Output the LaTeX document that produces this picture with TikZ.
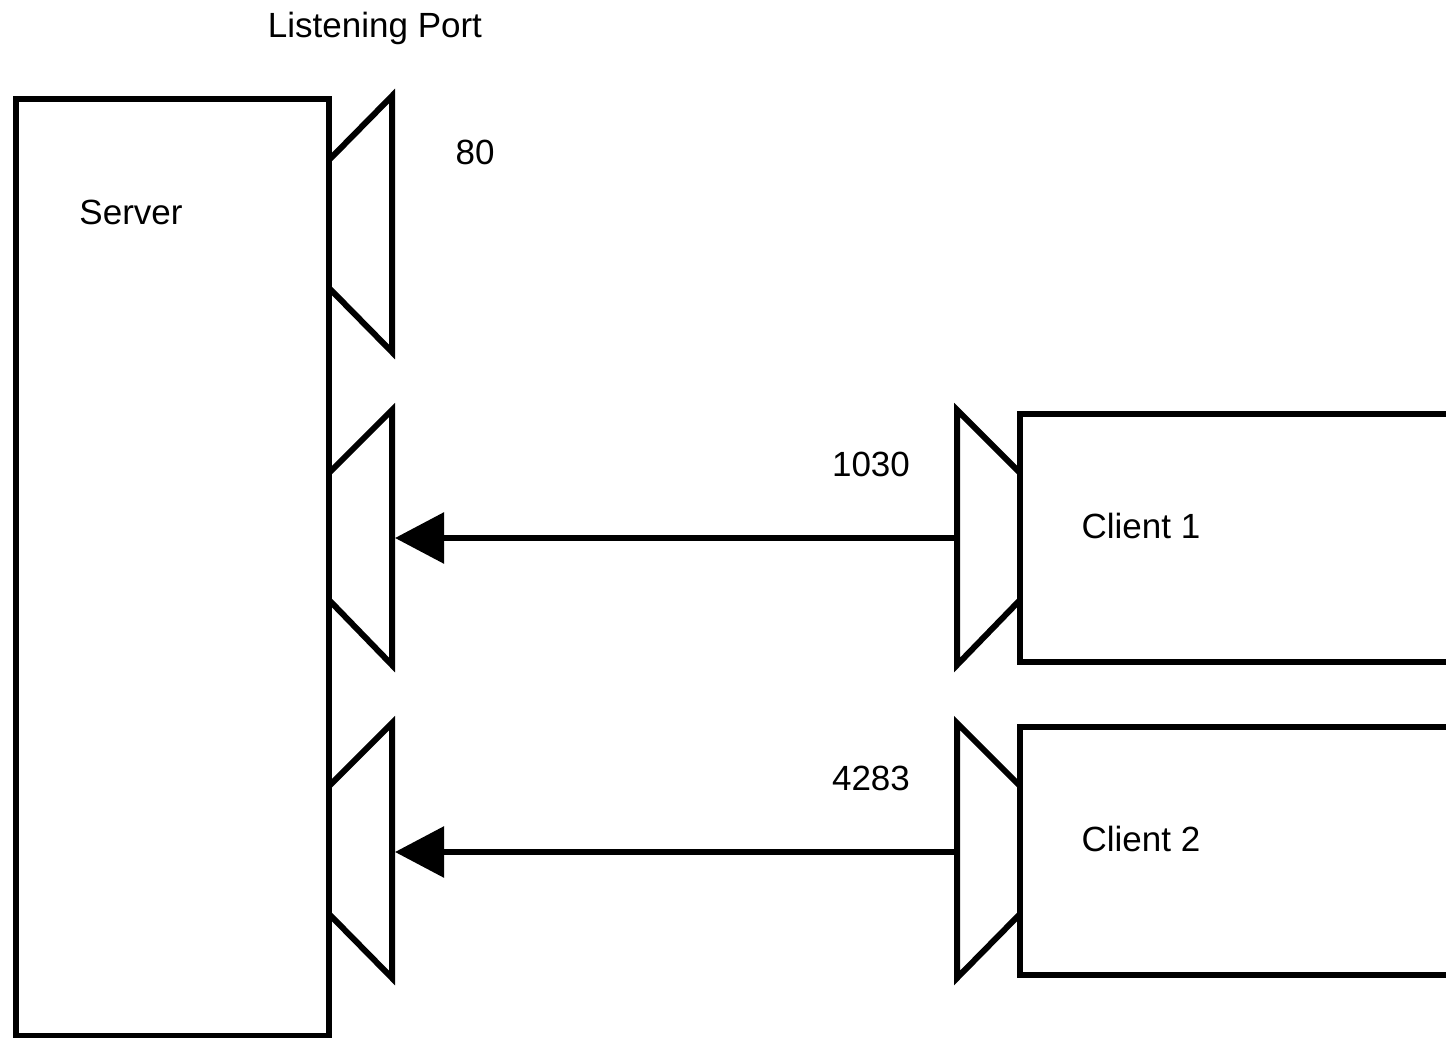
\documentclass[tikz,border=0pt]{standalone}
\usepackage{fontspec}
\setmainfont{Liberation Sans}
\usetikzlibrary{arrows.meta}
\begin{document}
\begin{tikzpicture}[x=1pt,y=-1pt,
  box/.style={draw=black,line width=6pt,line join=miter},
  port/.style={draw=black,line width=6pt,line join=miter},
  lbl/.style={anchor=base,inner sep=0pt,font=\fontsize{35}{42}\selectfont},
  conn/.style={line width=6pt,-{Triangle[length=49pt,width=50pt]}}]
\useasboundingbox (0,0) rectangle (1446,1038);
\clip (0,0) rectangle (1446,1038);
% server
\draw[box] (16,99) rectangle (329,1036);
% server ports
\draw[port] (329,160) -- (392,96) -- (392,352) -- (329,288);
\draw[port] (329,473) -- (392,410) -- (392,665) -- (329,600);
\draw[port] (329,786) -- (392,723) -- (392,978) -- (329,914);
\coordinate (sp2) at (395,538);
\coordinate (sp3) at (395,852);
% clients
\draw[box] (1020,414) rectangle (1470,662);
\draw[box] (1020,727) rectangle (1470,975);
\draw[port] (1020,473) -- (957,410) -- (957,665) -- (1020,600);
\draw[port] (1020,786) -- (957,723) -- (957,978) -- (1020,914);
\coordinate (cp1) at (957,538);
\coordinate (cp2) at (957,852);
% connectors
\draw[conn] (cp1) -- (sp2);
\draw[conn] (cp2) -- (sp3);
% labels
\node[lbl] (lp) at (375,37.5) {Listening Port};
\node[lbl] (p80) at (475,164.5) {80};
\node[lbl] (srv) at (131,224.5) {Server};
\node[lbl] (p1030) at (871,476.5) {1030};
\node[lbl] (c1) at (1141,538.5) {Client 1};
\node[lbl] (p4283) at (871,790.5) {4283};
\node[lbl] (c2) at (1141,851.5) {Client 2};
\end{tikzpicture}
\end{document}
